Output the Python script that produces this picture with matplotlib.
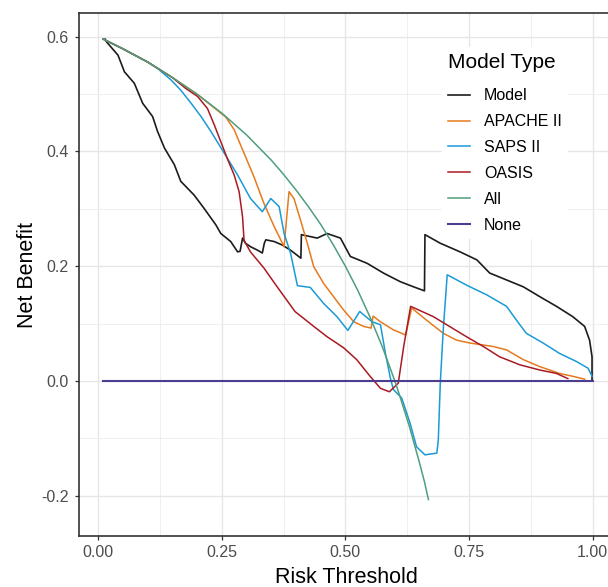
import matplotlib
matplotlib.use("Agg")
import matplotlib.pyplot as plt
from matplotlib.ticker import MultipleLocator

plt.rcParams["font.family"] = ["Liberation Sans", "DejaVu Sans"]

# values
model_x = [0.014, 0.016, 0.040, 0.053, 0.073, 0.090, 0.110, 0.120, 0.134, 0.154, 0.167, 0.194,
           0.214, 0.238, 0.248, 0.268, 0.282, 0.287, 0.292, 0.298, 0.308, 0.322, 0.332, 0.336,
           0.339, 0.356, 0.372, 0.389, 0.410, 0.411, 0.443, 0.463, 0.490, 0.510, 0.544, 0.577,
           0.611, 0.638, 0.660, 0.661, 0.692, 0.732, 0.766, 0.792, 0.826, 0.860, 0.893, 0.927,
           0.960, 0.984, 0.994, 0.999, 0.999]
model_y = [0.596, 0.592, 0.568, 0.539, 0.519, 0.484, 0.461, 0.435, 0.406, 0.377, 0.348, 0.324,
           0.301, 0.272, 0.257, 0.243, 0.225, 0.226, 0.249, 0.240, 0.234, 0.228, 0.223, 0.240,
           0.246, 0.243, 0.237, 0.228, 0.214, 0.255, 0.249, 0.257, 0.249, 0.217, 0.205, 0.188,
           0.173, 0.164, 0.157, 0.255, 0.240, 0.225, 0.211, 0.188, 0.176, 0.164, 0.147, 0.130,
           0.112, 0.095, 0.071, 0.042, 0.002]

apache_x = [0.010, 0.050, 0.100, 0.150, 0.200, 0.258, 0.275, 0.295, 0.315, 0.335, 0.356, 0.376,
            0.386, 0.396, 0.409, 0.423, 0.436, 0.456, 0.476, 0.496, 0.517, 0.537, 0.552, 0.556,
            0.571, 0.597, 0.622, 0.634, 0.664, 0.698, 0.725, 0.752, 0.799, 0.826, 0.860, 0.893,
            0.933, 0.960, 0.984]
apache_y = [0.596, 0.579, 0.556, 0.529, 0.500, 0.460, 0.438, 0.397, 0.356, 0.310, 0.269, 0.234,
            0.330, 0.318, 0.281, 0.240, 0.199, 0.170, 0.147, 0.124, 0.103, 0.095, 0.092, 0.113,
            0.103, 0.089, 0.080, 0.127, 0.106, 0.083, 0.071, 0.066, 0.060, 0.054, 0.037, 0.025,
            0.013, 0.008, 0.003]

saps_x = [0.010, 0.050, 0.100, 0.120, 0.147, 0.167, 0.188, 0.208, 0.228, 0.255, 0.282, 0.308,
          0.332, 0.349, 0.366, 0.376, 0.389, 0.403, 0.429, 0.456, 0.483, 0.505, 0.529, 0.554,
          0.571, 0.581, 0.591, 0.597, 0.614, 0.631, 0.644, 0.661, 0.685, 0.688, 0.692, 0.698,
          0.706, 0.745, 0.786, 0.826, 0.846, 0.866, 0.900, 0.933, 0.967, 0.991, 0.999]
saps_y = [0.596, 0.579, 0.556, 0.545, 0.525, 0.507, 0.484, 0.461, 0.435, 0.397, 0.359, 0.318,
          0.295, 0.318, 0.304, 0.257, 0.223, 0.166, 0.163, 0.135, 0.112, 0.088, 0.121, 0.103,
          0.098, 0.048, 0.005, -0.015, -0.030, -0.074, -0.115, -0.129, -0.126, -0.103, -0.004, 0.089,
          0.185, 0.167, 0.150, 0.130, 0.106, 0.083, 0.066, 0.048, 0.034, 0.022, 0.008]

oasis_x = [0.010, 0.050, 0.100, 0.150, 0.177, 0.201, 0.221, 0.235, 0.248, 0.261, 0.275, 0.285,
           0.292, 0.295, 0.308, 0.335, 0.362, 0.398, 0.436, 0.463, 0.496, 0.523, 0.550, 0.571,
           0.589, 0.607, 0.618, 0.632, 0.678, 0.745, 0.779, 0.812, 0.853, 0.893, 0.927, 0.950]
oasis_y = [0.596, 0.579, 0.556, 0.529, 0.510, 0.496, 0.475, 0.446, 0.417, 0.388, 0.359, 0.330,
           0.286, 0.245, 0.225, 0.197, 0.164, 0.121, 0.095, 0.077, 0.058, 0.037, 0.008, -0.013,
           -0.019, -0.004, 0.060, 0.130, 0.112, 0.077, 0.060, 0.042, 0.028, 0.019, 0.013, 0.004]

all_x = [0.010, 0.050, 0.100, 0.150, 0.200, 0.250, 0.275, 0.300, 0.325, 0.350, 0.375, 0.400,
         0.425, 0.450, 0.475, 0.500, 0.525, 0.550, 0.575, 0.600, 0.610, 0.630, 0.650, 0.660, 0.668]
all_y = [0.596, 0.579, 0.556, 0.529, 0.500, 0.467, 0.448, 0.429, 0.407, 0.385, 0.360, 0.333,
         0.304, 0.273, 0.238, 0.200, 0.158, 0.111, 0.059, 0.000, -0.026, -0.081, -0.143, -0.176,
         -0.207]

none_x = [0.010, 1.000]
none_y = [0.0, 0.0]

series = [
    ("Model", model_x, model_y, "#1c1c1c", 1.2),
    ("APACHE II", apache_x, apache_y, "#E67A1E", 1.1),
    ("SAPS II", saps_x, saps_y, "#1B9AD6", 1.1),
    ("OASIS", oasis_x, oasis_y, "#A91B22", 1.1),
    ("All", all_x, all_y, "#4F9E7C", 1.1),
    ("None", none_x, none_y, "#4B3D8F", 1.5),
]

fig = plt.figure(figsize=(6.08, 5.87), dpi=100)
ax = fig.add_axes([78.7 / 608, 1 - 535.7 / 587, (617 - 78.7) / 608, (535.7 - 13.3) / 587])

for name, xs, ys, col, lw in series:
    ax.plot(xs, ys, color=col, lw=lw, label=name, solid_joinstyle="round")

ax.set_xlim(-0.0395, 1.0495)
ax.set_ylim(-0.270, 0.641)
ax.xaxis.set_minor_locator(MultipleLocator(0.125))
ax.yaxis.set_minor_locator(MultipleLocator(0.1))
ax.set_xticks([0, 0.25, 0.5, 0.75, 1.0])
ax.set_xticklabels(["0.00", "0.25", "0.50", "0.75", "1.00"])
ax.set_yticks([-0.2, 0.0, 0.2, 0.4, 0.6])
ax.set_yticklabels(["-0.2", "0.0", "0.2", "0.4", "0.6"])

ax.grid(which="major", color="#E6E6E6", lw=1.0)
ax.grid(which="minor", color="#EDEDED", lw=0.6)
ax.set_axisbelow(True)
ax.tick_params(which="major", length=3, width=0.9, color="#333333",
               labelsize=11.5, labelcolor="#4D4D4D", pad=4)
ax.tick_params(which="minor", length=0)
for s in ax.spines.values():
    s.set_color("#333333")
    s.set_linewidth(1.2)

fig.text(346.5 / 608, 4 / 587, "Risk Threshold", fontsize=15.5, ha="center", va="baseline")
fig.text(33 / 608, 1 - 274.5 / 587, "Net Benefit", fontsize=15.5, rotation=90,
         rotation_mode="anchor", ha="center", va="baseline")

leg = ax.legend(title="Model Type", loc="upper left",
                bbox_to_anchor=(441.6 / 608, 1 - 47 / 587), bbox_transform=fig.transFigure,
                borderaxespad=0, frameon=True, fancybox=False, facecolor="white",
                edgecolor="none", framealpha=1, fontsize=11.5, title_fontsize=15,
                handlelength=1.35, handletextpad=0.9, labelspacing=0.68,
                alignment="left")
leg._legend_box.sep = 11.5  # gap under the title, points

fig.savefig("out.png", dpi=100)
